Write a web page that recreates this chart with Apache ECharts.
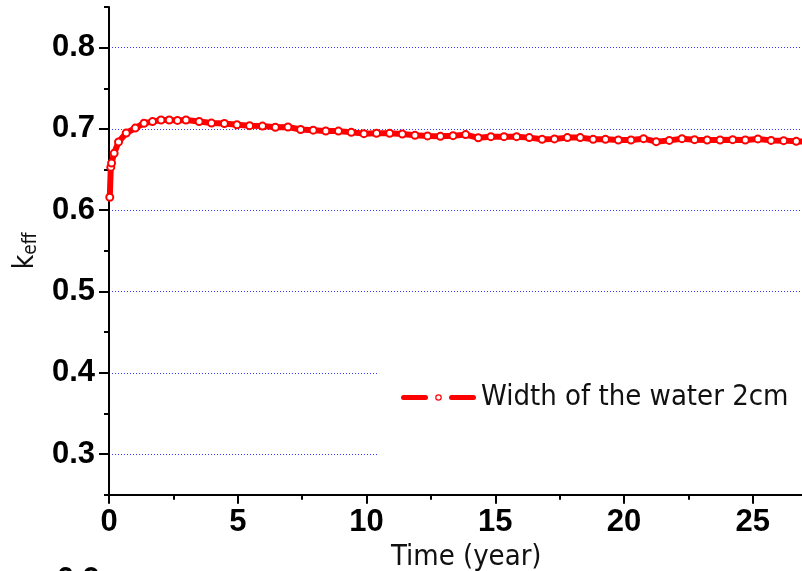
<!DOCTYPE html>
<html>
<head>
<meta charset="utf-8">
<script src="https://cdn.jsdelivr.net/npm/echarts@6/dist/echarts.min.js"></script>
<style>
  html, body { margin: 0; padding: 0; background: #ffffff; }
  #chart { width: 802px; height: 571px; }
</style>
</head>
<body>
<div id="chart"></div>
<script>
// Burn-up time in years and the effective multiplication factor at each step
const years = [
  0.03, 0.07, 0.1, 0.2, 0.37, 0.67, 1.02, 1.36, 1.69, 2.02, 2.34, 2.66, 2.99,
  3.5, 3.98, 4.48, 4.97, 5.46, 5.96, 6.46, 6.95, 7.44, 7.93, 8.42, 8.91,
  9.41, 9.9, 10.39, 10.9, 11.39, 11.88, 12.37, 12.87, 13.36, 13.85, 14.34,
  14.83, 15.34, 15.83, 16.32, 16.82, 17.3, 17.8, 18.3, 18.8, 19.28, 19.78,
  20.27, 20.76, 21.25, 21.76, 22.25, 22.74, 23.23, 23.73, 24.22, 24.71,
  25.2, 25.71, 26.2, 26.69, 27.18
];
const keff = [
  0.616, 0.653, 0.658, 0.670, 0.684, 0.695, 0.701, 0.707, 0.709, 0.711, 0.711, 0.7105, 0.711,
  0.7092, 0.7072, 0.7067, 0.7052, 0.704, 0.7035, 0.702, 0.7023, 0.6993, 0.6985, 0.6975, 0.6973,
  0.6958, 0.6942, 0.6946, 0.6946, 0.6938, 0.6921, 0.6914, 0.6909, 0.6917, 0.693, 0.6891,
  0.6905, 0.6905, 0.6905, 0.6893, 0.6872, 0.6877, 0.6893, 0.6893, 0.6872, 0.6872, 0.6864,
  0.6864, 0.688, 0.6843, 0.6859, 0.688, 0.6868, 0.6864, 0.6864, 0.6868, 0.6864,
  0.6877, 0.6859, 0.6856, 0.6847, 0.6845
];
const yMajorTicks = [0.3, 0.4, 0.5, 0.6, 0.7, 0.8];
const seriesName = 'Width of the water 2cm';

const labelFont = '"Liberation Sans", Arial, sans-serif';
const textFont = '"DejaVu Sans Condensed", "DejaVu Sans", sans-serif';

// legend glyph: dash, hollow ring, dash
const legendIcon = 'path://' +
  'M2.5,1.5 L24.5,1.5 A2.5,2.5 0 0 1 24.5,6.5 L2.5,6.5 A2.5,2.5 0 0 1 2.5,1.5 Z ' +
  'M50.5,1.5 L72.5,1.5 A2.5,2.5 0 0 1 72.5,6.5 L50.5,6.5 A2.5,2.5 0 0 1 50.5,1.5 Z ' +
  'M34.2,4 A3.3,3.3 0 1 0 40.8,4 A3.3,3.3 0 1 0 34.2,4 Z ' +
  'M35.4,4 A2.1,2.1 0 1 1 39.6,4 A2.1,2.1 0 1 1 35.4,4 Z';

const chart = echarts.init(document.getElementById('chart'), null, { renderer: 'canvas' });

const isTenth = v => Math.abs(v * 10 - Math.round(v * 10)) < 1e-6;

chart.setOption({
  animation: false,
  backgroundColor: '#ffffff',
  grid: { left: 109, top: 7, width: 772.5, height: 487.7, outerBoundsMode: 'none', containLabel: false },
  legend: {
    left: 379,
    top: 366,
    padding: [17, 12, 50, 22],
    backgroundColor: '#ffffff',
    itemWidth: 75,
    itemHeight: 8,
    icon: legendIcon,
    itemStyle: { color: '#ff0000', borderWidth: 0 },
    textStyle: { fontFamily: textFont, fontSize: 29, color: '#111111' },
    data: [seriesName]
  },
  xAxis: {
    type: 'value',
    min: 0,
    max: 30,
    interval: 5,
    name: 'Time (year)',
    nameLocation: 'middle',
    nameGap: 44,
    nameTextStyle: { fontFamily: textFont, fontSize: 29, color: '#111111', padding: [0, 58, 0, 0] },
    axisLine: { show: true, lineStyle: { color: '#000000', width: 2 } },
    axisTick: { show: true, length: 9, lineStyle: { color: '#000000', width: 2 } },
    minorTick: { show: true, splitNumber: 2, length: 5, lineStyle: { color: '#000000', width: 2 } },
    axisLabel: { fontFamily: labelFont, fontWeight: 'bold', fontSize: 31, color: '#000000', margin: 12 },
    splitLine: { show: false }
  },
  yAxis: [
    {
      type: 'value',
      min: 0.25,
      max: 0.85,
      interval: 0.05,
      position: 'left',
      name: '{k|k}{s|eff}',
      nameLocation: 'middle',
      nameRotate: 90,
      nameGap: 68,
      nameTextStyle: {
        color: '#111111',
        rich: {
          k: { fontFamily: textFont, fontSize: 28, color: '#111111' },
          s: { fontFamily: textFont, fontSize: 19, color: '#111111', padding: [12, 0, 0, 0] }
        }
      },
      axisLine: { show: true, lineStyle: { color: '#000000', width: 2 } },
      axisTick: { show: true, length: 5, lineStyle: { color: '#000000', width: 2 } },
      axisLabel: {
        fontFamily: labelFont, fontWeight: 'bold', fontSize: 31, color: '#000000', margin: 14,
        formatter: v => (isTenth(v) ? v.toFixed(1) : '')
      },
      splitLine: {
        show: true,
        lineStyle: { color: ['rgba(0,0,0,0)', '#3636ff'], width: 1, type: [1, 2] }
      }
    },
    {
      type: 'value',
      min: 0.25,
      max: 0.85,
      interval: 0.05,
      position: 'left',
      offset: 0,
      axisLine: { show: false },
      axisTick: { show: true, length: 10, customValues: yMajorTicks, lineStyle: { color: '#000000', width: 2 } },
      axisLabel: { show: false },
      splitLine: { show: false }
    }
  ],
  graphic: [
    {
      type: 'text',
      x: 100,
      y: 565,
      style: { text: '0.9', font: 'bold 31px ' + labelFont, fill: '#000000', textAlign: 'right', textVerticalAlign: 'top' }
    }
  ],
  series: [
    {
      name: seriesName,
      type: 'line',
      xAxisIndex: 0,
      yAxisIndex: 0,
      data: years.map((t, i) => [t, keff[i]]),
      symbol: 'emptyCircle',
      symbolSize: 7,
      showAllSymbol: true,
      lineStyle: { color: '#ff0000', width: 6 },
      itemStyle: { color: '#ff0000', borderWidth: 1.3 },
      emphasis: { disabled: true },
      clip: true,
      z: 3
    }
  ]
});
</script>
</body>
</html>
